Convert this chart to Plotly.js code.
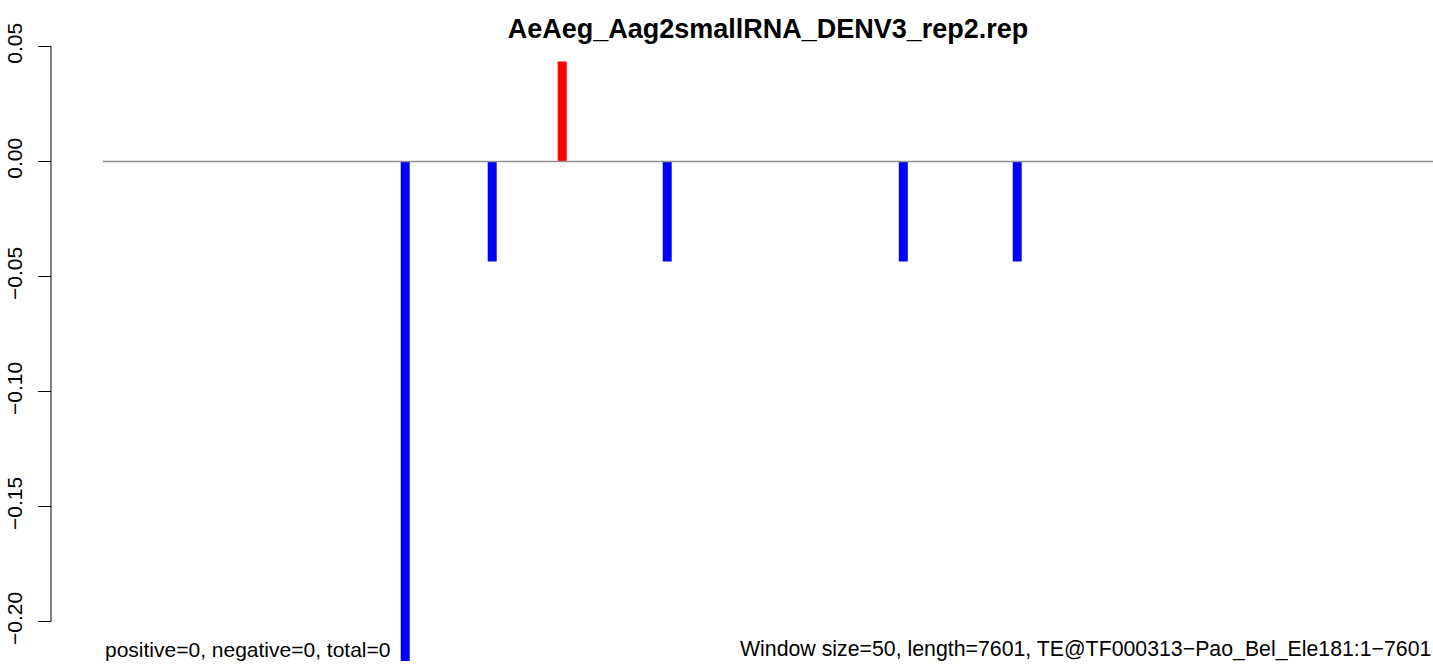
<!DOCTYPE html>
<html>
<head>
<meta charset="utf-8">
<script src="https://cdn.plot.ly/plotly-3.0.1.min.js"></script>
<style>html,body{margin:0;padding:0;background:#fff;}#chart{width:1433px;height:664px;}</style>
</head>
<body>
<div id="chart"></div>
<script>
// Data (positions along the TE, signed values)
const positions = [1562, 2099, 2531, 3179, 4636, 5339];
const values = [-0.2174, -0.0435, 0.0435, -0.0435, -0.0435, -0.0435];
const tickValues = [0.05, 0.00, -0.05, -0.10, -0.15, -0.20];
const tickLabels = ["0.05", "0.00", "\u22120.05", "\u22120.10", "\u22120.15", "\u22120.20"];
const titleText = "AeAeg_Aag2smallRNA_DENV3_rep2.rep";
const leftNote = "positive=0, negative=0, total=0";
const rightNote = "Window size=50, length=7601, TE@TF000313\u2212Pao_Bel_Ele181:1\u22127601";
const seqLength = 7601;

const FONT = "'Liberation Sans', Arial, Helvetica, sans-serif";

const traces = positions.map((p, i) => ({
  type: 'scatter',
  mode: 'lines',
  x: [p, p],
  y: [0, values[i]],
  line: {color: values[i] >= 0 ? '#FF0000' : '#0000FF', width: 9},
  hoverinfo: 'skip',
  showlegend: false
}));

const ext = (seqLength - 1) * 0.04;
const layout = {
  width: 1433,
  height: 664,
  margin: {l: 51, r: 0, t: 40, b: 3, pad: 0},
  paper_bgcolor: '#ffffff',
  plot_bgcolor: '#ffffff',
  showlegend: false,
  font: {family: FONT, size: 21, color: '#000'},
  title: {
    text: '<b>' + titleText + '</b>',
    font: {family: FONT, size: 27, color: '#000'},
    x: (103 + 1433) / 2 / 1433, xref: 'container', xanchor: 'center',
    y: 1 - 29 / 664, yref: 'container', yanchor: 'middle'
  },
  xaxis: {
    domain: [(103 - 51) / (1433 - 51), 1],
    range: [1 - ext, seqLength + ext],
    showgrid: false, zeroline: false, showline: false,
    showticklabels: false, ticks: ''
  },
  yaxis: {
    anchor: 'free', position: 0,
    range: [-(661 - 161.5) / 2300, (161.5 - 40) / 2300],
    showgrid: false, zeroline: false, showline: false,
    tickmode: 'array', tickvals: tickValues, ticktext: tickLabels,
    ticks: 'outside', ticklen: 13, tickwidth: 1, tickcolor: '#000',
    tickangle: -90,
    ticklabelstandoff: 8,
    tickfont: {family: FONT, size: 21, color: '#000'}
  },
  shapes: [
    {type: 'line', xref: 'paper', yref: 'y', x0: 0, x1: 0, y0: -0.20, y1: 0.05,
     line: {color: '#000', width: 1}, layer: 'above'},
    {type: 'line', xref: 'x domain', yref: 'y', x0: 0, x1: 1, y0: 0, y1: 0,
     line: {color: '#909090', width: 1.5}, layer: 'above'}
  ],
  annotations: [
    {text: leftNote, xref: 'x domain', yref: 'paper', x: 0, y: 0, yshift: -2,
     xanchor: 'left', yanchor: 'bottom', showarrow: false,
     font: {family: FONT, size: 21, color: '#000'}},
    {text: rightNote, xref: 'x domain', yref: 'paper', x: 1, y: 0, yshift: -2,
     xanchor: 'right', yanchor: 'bottom', showarrow: false,
     font: {family: FONT, size: 21.3, color: '#000'}}
  ]
};

Plotly.newPlot('chart', traces, layout, {staticPlot: true, displayModeBar: false});
</script>
</body>
</html>
